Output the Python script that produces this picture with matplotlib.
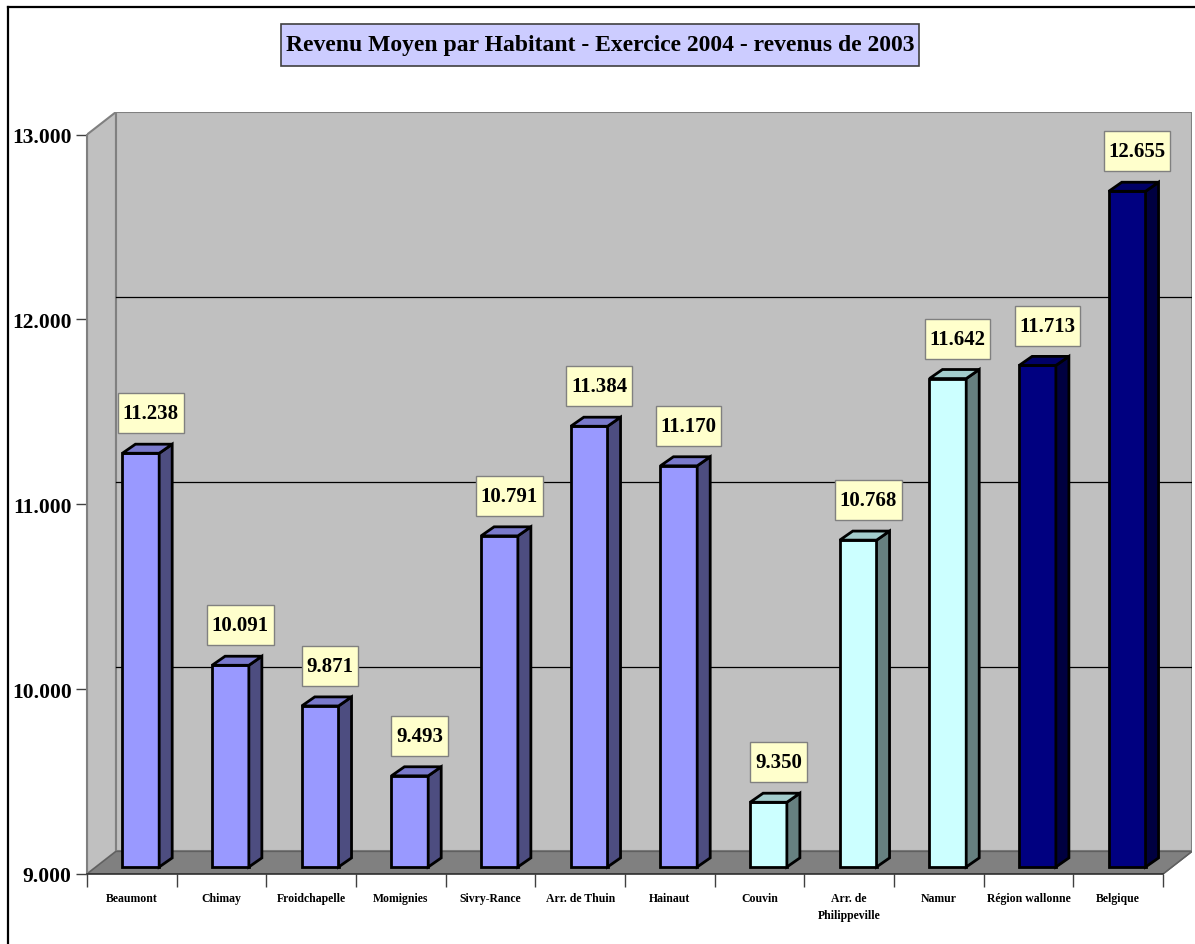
import matplotlib.pyplot as plt
from matplotlib.patches import Polygon
from matplotlib.lines import Line2D
from matplotlib.path import Path
import numpy as np

# Donnees
categories = ['Beaumont', 'Chimay', 'Froidchapelle', 'Momignies', 'Sivry-Rance',
              'Arr. de Thuin', 'Hainaut', 'Couvin', 'Arr. de\nPhilippeville',
              'Namur', 'Région wallonne', 'Belgique']
values = [11238, 10091, 9871, 9493, 10791, 11384, 11170, 9350, 10768, 11642, 11713, 12655]
groups = ['hainaut'] * 7 + ['namur'] * 3 + ['national'] * 2
y_ticks = [9000, 10000, 11000, 12000, 13000]

# couleurs: face, cote, dessus
palette = {
    'hainaut': ('#9999FF', '#4D4D80', '#7A7ACC'),
    'namur': ('#CCFFFF', '#668080', '#A3CCCC'),
    'national': ('#000080', '#000040', '#000066'),
}

plt.rcParams['font.family'] = ['Liberation Serif', 'DejaVu Serif']
plt.rcParams['font.weight'] = 'bold'


def box(padx, pady):
    # cadre rectangulaire avec marges horizontale / verticale differentes
    def style(x0, y0, width, height, mutation_size):
        px, py = padx * mutation_size, pady * mutation_size
        a, b = x0 - px, y0 - py
        c, d = x0 + width + px, y0 + height + py
        return Path([(a, b), (c, b), (c, d), (a, d), (a, b)], closed=True)
    return style


fig = plt.figure(figsize=(11.95, 9.45), dpi=100)
ax = fig.add_axes([87 / 1195, 70 / 945, 1105 / 1195, 762 / 945])
ax.patch.set_alpha(0)

ymin, ymax = 9000, 13000
DX, DY = 0.323, 122          # profondeur des murs
BDX, BDY = 0.145, 49         # profondeur des barres
BASE = 38                    # decalage du pied des barres
n = len(categories)
x0, x1 = -0.5, n - 0.5

ax.set_xlim(x0, x1 + DX)
ax.set_ylim(ymin, ymax + DY)

wall = '#C0C0C0'
edge = '#808080'
# mur du fond
ax.add_patch(Polygon([(x0 + DX, ymin + DY), (x1 + DX, ymin + DY), (x1 + DX, ymax + DY),
                      (x0 + DX, ymax + DY)], closed=True, fc=wall, ec=edge, lw=1.5, zorder=1))
# mur de gauche
ax.add_patch(Polygon([(x0, ymin), (x0 + DX, ymin + DY), (x0 + DX, ymax + DY), (x0, ymax)],
                     closed=True, fc=wall, ec=edge, lw=1.5, zorder=1))
# sol
ax.add_patch(Polygon([(x0, ymin), (x1, ymin), (x1 + DX, ymin + DY), (x0 + DX, ymin + DY)],
                     closed=True, fc='#808080', ec='#606060', lw=1.0, zorder=1))
# grille
for t in y_ticks[1:-1]:
    ax.plot([x0 + DX, x1 + DX], [t + DY, t + DY], color='black', lw=0.9, zorder=2)

# barres
xs = np.arange(n)
for i, (v, g) in enumerate(zip(values, groups)):
    front, side, top = palette[g]
    left = i - 0.105
    right = left + 0.41
    ytop = v + BASE
    ax.bar(left + 0.205, v - ymin, width=0.41, bottom=ymin + BASE, color=front,
           edgecolor='black', linewidth=2.0, zorder=3)
    ax.add_patch(Polygon([(right, ymin + BASE), (right + BDX, ymin + BASE + BDY),
                          (right + BDX, ytop + BDY), (right, ytop)],
                         closed=True, fc=side, ec='black', lw=2.0, zorder=3))
    ax.add_patch(Polygon([(left, ytop), (left + BDX, ytop + BDY), (right + BDX, ytop + BDY),
                          (right, ytop)], closed=True, fc=top, ec='black', lw=2.0, zorder=3))
    ax.text(i + 0.21, ytop + 216, f'{v:,}'.replace(',', '.'), ha='center', va='center',
            fontsize=15, fontweight='bold', zorder=4,
            bbox=dict(boxstyle=box(0.23, 0.48), fc='#FFFFCC', ec='#808080', lw=1))

# axes
for s in ['top', 'right']:
    ax.spines[s].set_visible(False)
ax.spines['left'].set_bounds(ymin, ymax)
ax.spines['left'].set_color('#808080')
ax.spines['left'].set_linewidth(1.5)
ax.spines['bottom'].set_bounds(x0, x1)
ax.spines['bottom'].set_color('#303030')
ax.spines['bottom'].set_linewidth(1.2)
ax.plot([x1, x1 + DX], [ymin, ymin + DY], color='#606060', lw=1.0, zorder=2)

ax.set_yticks(y_ticks)
ax.set_yticklabels([f'{t:,}'.replace(',', '.') for t in y_ticks], fontsize=15.5, fontweight='bold')
ax.tick_params(axis='y', length=8, width=1, color='#404040', pad=3)

ax.set_xticks(np.arange(n + 1) - 0.5)
ax.set_xticklabels([])
ax.tick_params(axis='x', which='major', length=9, width=1, color='#404040')
ax.set_xticks(xs, minor=True)
ax.set_xticklabels(categories, minor=True, fontsize=8.5, fontweight='bold', linespacing=1.5)
ax.tick_params(axis='x', which='minor', length=0, pad=13)

# titre
fig.text(600 / 1195, 1 - 46 / 945, 'Revenu Moyen par Habitant - Exercice 2004 - revenus de 2003',
         ha='center', va='center', fontsize=17, fontweight='bold',
         bbox=dict(boxstyle=box(0.2, 0.45), fc='#CCCCFF', ec='#404040', lw=1.2))

# cadre
fig.add_artist(Line2D([8 / 1195, 8 / 1195], [0, 1 - 8 / 945], color='black', lw=1.6))
fig.add_artist(Line2D([8 / 1195, 1], [1 - 8 / 945, 1 - 8 / 945], color='black', lw=1.6))

fig.savefig('out.png', dpi=100)
